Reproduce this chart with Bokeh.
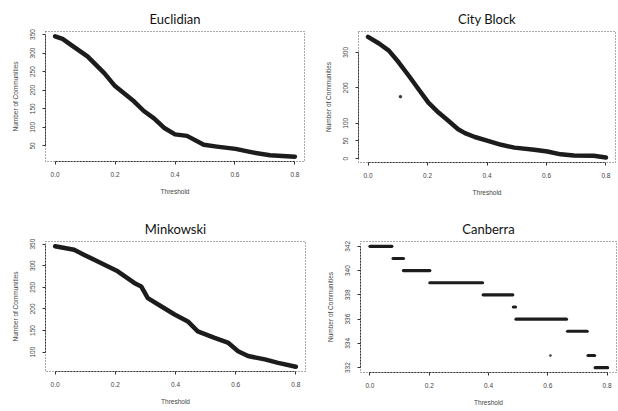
from bokeh.plotting import figure
from bokeh.layouts import column, row
from bokeh.models import FixedTicker, Range1d
from bokeh.embed import file_html
from bokeh.resources import INLINE

# ---- data ----
thr_ticks = [0.0, 0.2, 0.4, 0.6, 0.8]

euc_x = [0.0, 0.025, 0.053, 0.108, 0.164, 0.2, 0.263, 0.296, 0.33, 0.363, 0.4, 0.44, 0.496, 0.54, 0.602, 0.662, 0.717, 0.8]
euc_y = [345, 338, 322, 291, 246, 211, 170, 144, 124, 99, 81, 77, 53, 48, 42, 32, 25, 21]
euc_ticks = [50, 100, 150, 200, 250, 300, 350]

city_x = [0.0, 0.037, 0.07, 0.103, 0.137, 0.17, 0.203, 0.237, 0.27, 0.303, 0.326, 0.359, 0.403, 0.448, 0.492, 0.559, 0.603, 0.648, 0.692, 0.759, 0.8]
city_y = [344, 325, 305, 272, 234, 196, 158, 130, 107, 83, 72, 61, 50, 39, 31, 25, 20, 12, 9, 8, 3]
city_out_x = [0.109]
city_out_y = [175]
city_ticks = [0, 50, 100, 200, 300]

mink_x = [0.0, 0.063, 0.097, 0.152, 0.208, 0.263, 0.286, 0.308, 0.352, 0.397, 0.441, 0.474, 0.53, 0.574, 0.608, 0.641, 0.697, 0.741, 0.8]
mink_y = [345, 337, 325, 306, 287, 260, 252, 225, 206, 187, 171, 148, 133, 122, 102, 91, 83, 75, 66]
mink_ticks = [100, 150, 200, 250, 300, 350]

can_x0 = [0.0, 0.078, 0.113, 0.202, 0.382, 0.484, 0.493, 0.667, 0.736, 0.76]
can_x1 = [0.074, 0.113, 0.202, 0.38, 0.482, 0.491, 0.663, 0.733, 0.758, 0.802]
can_y = [342, 341, 340, 339, 338, 337, 336, 335, 333, 332]
can_out_x = [0.609]
can_out_y = [333]
can_ticks = [332, 334, 336, 338, 340, 342]

TITLE_FONT = "Lato"
AX_FONT = "Liberation Sans"
INK = "#1c1c1c"


def make_fig(title, fw, fh, bl, br, bt, bb, yr, yticks, ybounds):
    p = figure(frame_width=fw, frame_height=fh, output_backend="svg", toolbar_location=None,
               x_range=Range1d(-0.032, 0.832), y_range=Range1d(*yr),
               min_border_left=bl, min_border_right=br, min_border_top=bt, min_border_bottom=bb,
               title=title)
    p.title.text_font = TITLE_FONT
    p.title.text_font_size = "13px"
    p.title.text_font_style = "normal"
    p.title.align = "center"
    p.title.text_color = "#111111"
    p.title.standoff = 9
    p.grid.visible = False
    p.outline_line_color = "#555555"
    p.outline_line_dash = "1 2"
    p.outline_line_width = 1
    p.background_fill_color = "white"
    p.border_fill_color = "white"
    for ax in (p.xaxis[0], p.yaxis[0]):
        ax.axis_line_color = "#333333"
        ax.axis_line_dash = "2 1"
        ax.major_tick_line_color = "#333333"
        ax.major_tick_out = 3
        ax.major_tick_in = 0
        ax.minor_tick_line_color = None
        ax.major_label_text_font = AX_FONT
        ax.major_label_text_font_size = "6.5px"
        ax.major_label_text_color = "#444444"
        ax.major_label_standoff = 7
        ax.axis_label_text_font = AX_FONT
        ax.axis_label_text_font_size = "6.5px"
        ax.axis_label_text_font_style = "normal"
        ax.axis_label_text_color = "#444444"
    p.xaxis.ticker = FixedTicker(ticks=thr_ticks)
    p.xaxis.major_label_overrides = {t: f"{t:.1f}" for t in thr_ticks}
    p.xaxis.bounds = (thr_ticks[0], thr_ticks[-1])
    p.xaxis.axis_label = "Threshold"
    p.xaxis.axis_label_standoff = 8
    p.yaxis.ticker = FixedTicker(ticks=yticks)
    p.yaxis.bounds = ybounds
    p.yaxis.major_label_orientation = "vertical"
    p.yaxis.axis_label = "Number of Communities"
    p.yaxis.axis_label_standoff = 9
    return p


p1 = make_fig("Euclidian", 259, 130, 45, 5, 31, 44, (8, 358), euc_ticks, (50, 350))
p1.line(euc_x, euc_y, line_width=4.5, color=INK, line_cap="round", line_join="round")

p2 = make_fig("City Block", 257, 131, 49, 3, 31, 43, (-11, 359), city_ticks, (0, 300))
p2.line(city_x, city_y, line_width=4.5, color=INK, line_cap="round", line_join="round")
p2.scatter(city_out_x, city_out_y, size=2.5, color="#333333")

p3 = make_fig("Minkowski", 260, 130, 45, 4, 36, 39, (55, 356), mink_ticks, (100, 350))
p3.line(mink_x, mink_y, line_width=4.5, color=INK, line_cap="round", line_join="round")

p4 = make_fig("Canberra", 256, 131, 51, 2, 36, 38, (331.6, 342.4), can_ticks, (332, 342))
p4.segment(x0=can_x0, y0=can_y, x1=can_x1, y1=can_y, line_width=3.2, color=INK, line_cap="round")
p4.scatter(can_out_x, can_out_y, size=2, color="#555555")

layout = column(row(p1, p2), row(p3, p4))
open("out.html", "w").write(file_html(layout, INLINE))
